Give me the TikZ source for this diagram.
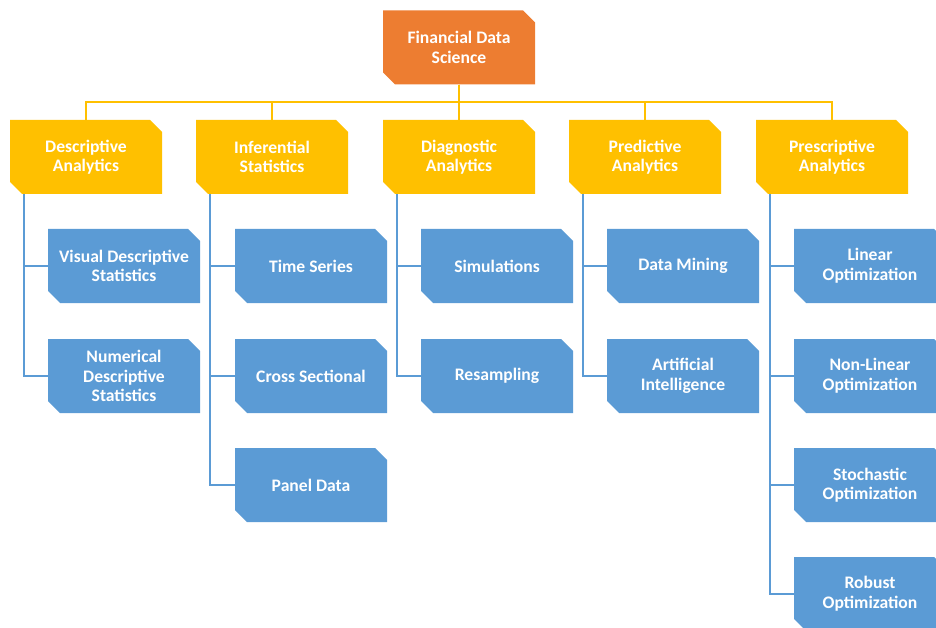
\documentclass[tikz,border=0pt]{standalone}
\usepackage{fontspec}
\setmainfont{Carlito}[BoldFont={Carlito Bold}]
\definecolor{cOrange}{HTML}{ED7D31}
\definecolor{cGold}{HTML}{FFC000}
\definecolor{cBlue}{HTML}{5B9BD5}
\tikzset{
  snipbox/.style={
    minimum width=152pt, minimum height=74pt, inner sep=2pt,
    align=center, text=white,
    font=\fontsize{17.6}{19.6}\selectfont\bfseries,
    path picture={\fill[#1]
      (path picture bounding box.north west)
      -- ([xshift=-12pt]path picture bounding box.north east)
      -- ([yshift=-12pt]path picture bounding box.north east)
      -- (path picture bounding box.south east)
      -- ([xshift=12pt]path picture bounding box.south west)
      -- ([yshift=12pt]path picture bounding box.south west)
      -- cycle;}
  },
  rootbox/.style={snipbox=cOrange},
  groupbox/.style={snipbox=cGold},
  leafbox/.style={snipbox=cBlue},
  bus/.style={draw=cGold, line width=2pt},
  branch/.style={draw=cBlue, line width=2pt},
}
\begin{document}
\begin{tikzpicture}[x=1pt, y=-1pt]
\useasboundingbox (0,0) rectangle (936,628);

% root
\node[rootbox] (root) at (459,47.5) {Financial Data\\Science};

% analytics groups
\node[groupbox] (g1) at (86,157)  {Descriptive\\Analytics};
\node[groupbox] (g2) at (272,157) {Inferential\\Statistics};
\node[groupbox] (g3) at (459,157) {Diagnostic\\Analytics};
\node[groupbox] (g4) at (645,157) {Predictive\\Analytics};
\node[groupbox] (g5) at (832,157) {Prescriptive\\Analytics};

% methods
\node[leafbox] (d1) at (124,266) {Visual Descriptive\\Statistics};
\node[leafbox] (d2) at (124,376) {Numerical\\Descriptive\\Statistics};

\node[leafbox] (i1) at (311,266) {Time Series};
\node[leafbox] (i2) at (311,376) {Cross Sectional};
\node[leafbox] (i3) at (311,485) {Panel Data};

\node[leafbox] (a1) at (497,266) {Simulations};
\node[leafbox] (a2) at (497,376) {Resampling};

\node[leafbox] (p1) at (683,266) {Data Mining};
\node[leafbox] (p2) at (683,376) {Artificial\\Intelligence};

\node[leafbox] (o1) at (870,266) {Linear\\Optimization};
\node[leafbox] (o2) at (870,376) {Non-Linear\\Optimization};
\node[leafbox] (o3) at (870,485) {Stochastic\\Optimization};
\node[leafbox] (o4) at (870,594) {Robust\\Optimization};

% root to groups
\coordinate (busy) at (459,102);
\foreach \g in {g1,g2,g3,g4,g5}
  \draw[bus] (root.south) -- (root.south |- busy) -| (\g.north);

% groups to methods
\foreach \g/\c in {g1/d1, g1/d2, g2/i1, g2/i2, g2/i3, g3/a1, g3/a2,
                   g4/p1, g4/p2, g5/o1, g5/o2, g5/o3, g5/o4}
  \draw[branch] ([xshift=14pt]\g.south west) |- (\c.west);
\end{tikzpicture}
\end{document}
